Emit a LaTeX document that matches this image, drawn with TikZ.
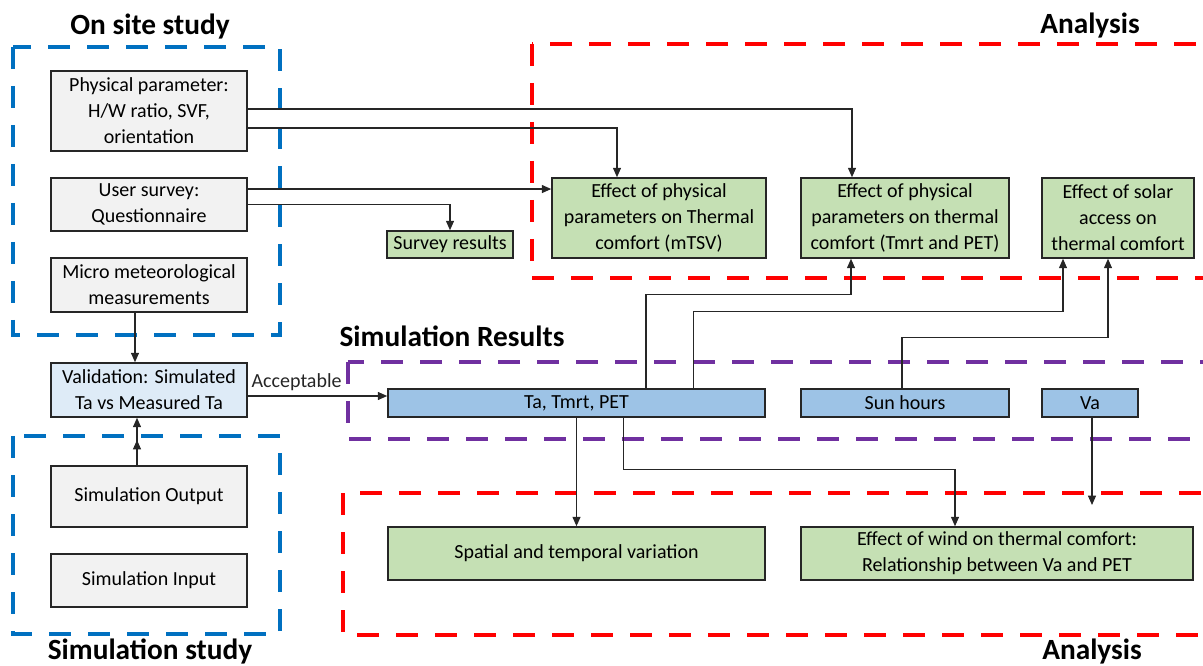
\documentclass[tikz,border=0pt]{standalone}
\usepackage{fontspec}
\setmainfont{Carlito}
\usetikzlibrary{arrows.meta, positioning}

\definecolor{BoxGrey}{HTML}{F2F2F2}
\definecolor{BoxEdge}{HTML}{262626}
\definecolor{ValidBlue}{HTML}{DEEBF7}
\definecolor{ResultBlue}{HTML}{9DC3E6}
\definecolor{EffectGreen}{HTML}{C5E0B4}
\definecolor{ZoneBlue}{HTML}{0070C0}
\definecolor{ZoneRed}{HTML}{FF0000}
\definecolor{ZonePurple}{HTML}{7030A0}

\tikzset{
    every node/.style={font=\fontsize{15}{19.5}\selectfont},
    % Study box style
    studybox/.style={
        rectangle,
        draw=BoxEdge,
        fill=BoxGrey,
        line width=1.2pt,
        minimum width=147pt,
        inner sep=1pt,
        align=center
    },
    % Validation box style
    validbox/.style={
        studybox,
        fill=ValidBlue
    },
    % Simulation result style
    resultbox/.style={
        rectangle,
        draw=BoxEdge,
        fill=ResultBlue,
        line width=1.2pt,
        inner sep=1pt,
        align=center
    },
    % Analysis result style
    effectbox/.style={
        rectangle,
        draw=BoxEdge,
        fill=EffectGreen,
        line width=1.2pt,
        inner sep=1pt,
        align=center
    },
    % Group titles
    heading/.style={
        font=\fontsize{22}{26}\selectfont\bfseries,
        inner sep=0pt
    },
    % Dashed group frames
    zone/.style={
        line width=3.5pt,
        dash pattern=on 16.5pt off 12.75pt
    },
    sitezone/.style={zone, draw=ZoneBlue},
    analysiszone/.style={zone, draw=ZoneRed},
    resultzone/.style={zone, draw=ZonePurple},
    % Arrow style
    arrow/.style={
        -{Triangle[length=7pt,width=6pt]},
        line width=0.8pt,
        color=black!85
    }
}

\begin{document}
\begin{tikzpicture}[x=0.75pt, y=-0.75pt]
    \useasboundingbox (0,0) rectangle (1203,666);
    \clip (0,0) rectangle (1203,666);

    % Group frames
    \draw [sitezone] (13,47) rectangle (280,335);
    \draw [sitezone] (13,436) rectangle (280,634);
    \draw [analysiszone] (532,44) rectangle (1215,278);
    \draw [resultzone] (348,362) rectangle (1215,439);
    \draw [analysiszone] (343,493) rectangle (1215,635);

    % Titles
    \node (sitetitle) [heading, anchor=base] at (150,35) {On site study};
    \node (simtitle) [heading, anchor=base] at (150,659) {Simulation study};
    \node (toptitle) [heading, anchor=base] at (1090,34) {Analysis};
    \node (bottitle) [heading, anchor=base] at (1092,659) {Analysis};
    \node (restitle) [heading, anchor=base] at (452,347) {Simulation Results};

    % On site and simulation study
    \node (phys) [studybox, minimum height=60pt] at (149,111) {Physical parameter:\\H/W ratio, SVF,\\orientation};
    \node (survey) [studybox, minimum height=39.75pt] at (149,204.5) {User survey:\\Questionnaire};
    \node (micro) [studybox, minimum height=40.5pt] at (149,285) {Micro meteorological\\measurements};
    \node (valid) [validbox, minimum height=40.5pt] at (149,390) {Validation: Simulated\\Ta vs Measured Ta};
    \node (simout) [studybox, minimum height=45.75pt] at (149,496.5) {Simulation Output};
    \node (simin) [studybox, minimum height=39.75pt] at (149,580.5) {Simulation Input};

    % Analysis
    \node (effmtsv) [effectbox, minimum width=160.5pt, minimum height=60pt] at (659,218) {Effect of physical\\parameters on Thermal\\comfort (mTSV)};
    \node (effpet) [effectbox, minimum width=156pt, minimum height=60pt] at (905,218) {Effect of physical\\parameters on thermal\\comfort (Tmrt and PET)};
    \node (effsolar) [effectbox, minimum width=114pt, minimum height=60pt] at (1118,218) {Effect of solar\\access on\\thermal comfort};
    \node (survres) [effectbox, minimum width=94.5pt, minimum height=20.25pt] at (450,244.5) {Survey results};

    % Simulation results
    \node (ta) [resultbox, minimum width=282.75pt, minimum height=21pt] at (576.5,403) {Ta, Tmrt, PET};
    \node (sun) [resultbox, minimum width=156pt, minimum height=21pt] at (905,403) {Sun hours};
    \node (va) [resultbox, minimum width=72pt, minimum height=21pt] at (1090,403) {Va};

    \node (spatial) [effectbox, minimum width=282.75pt, minimum height=39.75pt] at (576.5,553.5) {Spatial and temporal variation};
    \node (wind) [effectbox, minimum width=294pt, minimum height=39.75pt] at (997,553.5) {Effect of wind on thermal comfort:\\Relationship between Va and PET};

    \coordinate (simtop) at (137,440);
    \coordinate (vaend) at (1092,505);

    % On site study to analysis
    \draw [arrow] ([yshift=1.5pt]phys.east) -| ([xshift=-39.75pt]effpet.north);
    \draw [arrow] ([yshift=-12.75pt]phys.east) -| ([xshift=-31.5pt]effmtsv.north);
    \draw [arrow] ([yshift=11.6pt]survey.east) -- ([yshift=11.6pt]survey.east -| effmtsv.west);
    \draw [arrow] (survey.east) -| (survres.north);

    % Validation
    \draw [arrow] ([xshift=-10.5pt]micro.south) -- ([xshift=-10.5pt]valid.north);
    \draw [arrow] ([xshift=-9pt]simout.north) -- ([xshift=-9pt]valid.south);
    \draw [arrow] ([xshift=-9pt]simout.north) -- (simtop);
    \draw [arrow] ([yshift=-4.5pt]valid.east) -- node (acclabel) [pos=0.35, above] {Acceptable} ([yshift=-4.5pt]valid.east -| ta.west);

    % Simulation results to analysis
    \draw [arrow] ([xshift=52.1pt]ta.north) -- ++(0,70.5pt) -| ([xshift=-40.5pt]effpet.south);
    \draw [arrow] ([xshift=87.4pt]ta.north) -- ++(0,57.75pt) -| ([xshift=-41.25pt]effsolar.south);
    \draw [arrow] ([xshift=-2.25pt]sun.north) -- ++(0,38.25pt) -| ([xshift=-7.5pt]effsolar.south);
    \draw [arrow] (ta.south) -- (spatial.north);
    \draw [arrow] ([xshift=34.9pt]ta.south) -- ++(0,-39pt) -| ([xshift=-31.5pt]wind.north);
    \draw [arrow] ([xshift=1.5pt]va.south) -- (vaend);
\end{tikzpicture}
\end{document}
